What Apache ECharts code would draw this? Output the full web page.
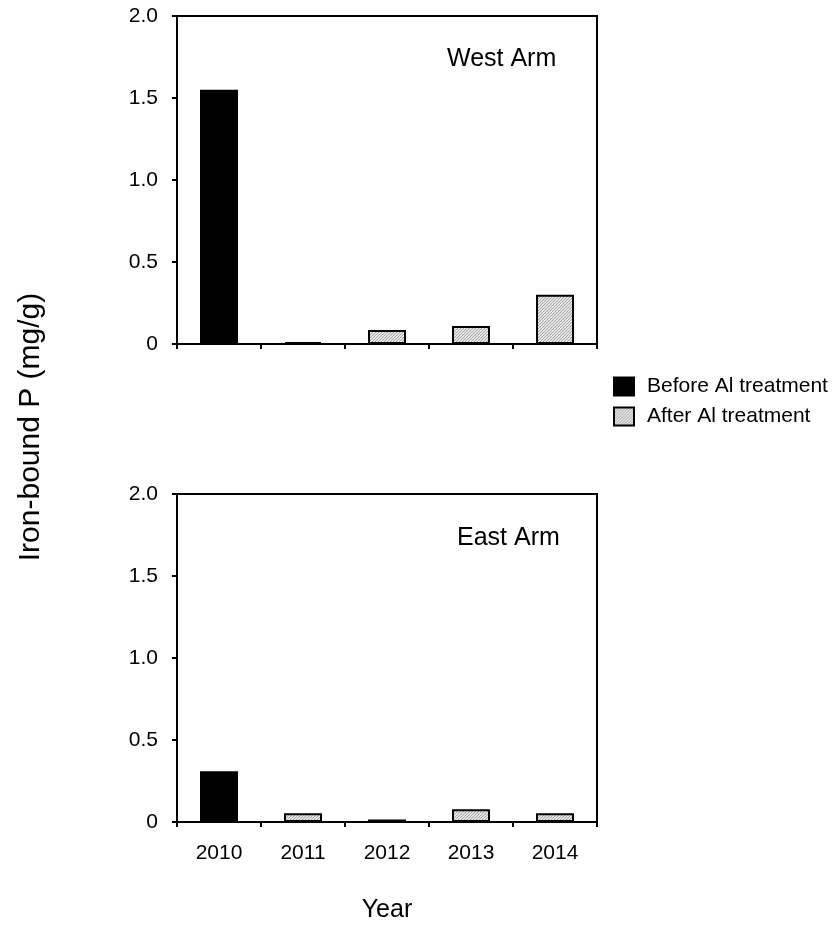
<!DOCTYPE html>
<html>
<head>
<meta charset="utf-8">
<style>
  html, body { margin: 0; padding: 0; background: #fff; }
  #chart { width: 839px; height: 928px; }
</style>
<script src="https://cdn.jsdelivr.net/npm/echarts@6/dist/echarts.min.js"></script>
</head>
<body>
<div id="chart"></div>
<script>
// 数据
const years = ['2010', '2011', '2012', '2013', '2014']
const yTicks = [0, 0.5, 1.0, 1.5, 2.0]
const westBefore = [1.55, '-', '-', '-', '-']
const westAfter = ['-', 0.012, 0.085, 0.11, 0.30]
const eastBefore = [0.31, '-', '-', '-', '-']
const eastAfter = ['-', 0.053, 0.015, 0.077, 0.053]

// 斜线填充
const hatch = (() => {
  const c = document.createElement('canvas')
  c.width = 3
  c.height = 3
  const ctx = c.getContext('2d')
  ctx.fillStyle = '#e4e4e4'
  ctx.fillRect(0, 0, 3, 3)
  ctx.fillStyle = '#a8a8a8'
  for (let i = 0; i < 3; i++) ctx.fillRect(i, 2 - i, 1, 1)
  return { image: c, repeat: 'repeat' }
})()

const myChart = echarts.init(document.getElementById('chart'))
const font = 'Liberation Sans, Arial, sans-serif'

const yAxisCommon = (gridIndex) => ({
  type: 'value',
  gridIndex,
  min: yTicks[0],
  max: yTicks[yTicks.length - 1],
  interval: 0.5,
  axisLine: { show: true, lineStyle: { color: '#000', width: 2 } },
  axisTick: { show: true, inside: false, length: 5, lineStyle: { color: '#000', width: 2 } },
  splitLine: { show: false },
  axisLabel: {
    margin: 19,
    color: '#000',
    fontFamily: font,
    fontSize: 21,
    formatter: (v) => (v === 0 ? '0' : v.toFixed(1))
  }
})

const xAxisCommon = (gridIndex, showLabel) => ({
  type: 'category',
  gridIndex,
  data: years,
  axisLine: { show: true, lineStyle: { color: '#000', width: 2 } },
  axisTick: { show: true, inside: false, length: 5, alignWithLabel: false, lineStyle: { color: '#000', width: 2 } },
  axisLabel: { show: showLabel, margin: 21, color: '#000', fontFamily: font, fontSize: 21 }
})

const barStyleBefore = { color: '#000', borderColor: '#000', borderWidth: 2 }
const barStyleAfter = { color: hatch, borderColor: '#000', borderWidth: 2 }

const option = {
  animation: false,
  backgroundColor: '#fff',
  title: [
    { text: 'West Arm', left: 447, top: 47, padding: 0, textStyle: { fontFamily: font, fontSize: 25, fontWeight: 'normal', color: '#000' } },
    { text: 'East Arm', left: 457, top: 526, padding: 0, textStyle: { fontFamily: font, fontSize: 25, fontWeight: 'normal', color: '#000' } }
  ],
  legend: {
    orient: 'vertical',
    left: 613,
    top: 376,
    padding: 0,
    itemWidth: 20,
    itemHeight: 18,
    itemGap: 9,
    icon: 'rect',
    textStyle: { fontFamily: font, fontSize: 21, color: '#000', padding: [0, 0, 0, 8] },
    data: ['Before Al treatment', 'After Al treatment']
  },
  grid: [
    { left: 177, top: 16, width: 420, height: 328, show: true, borderColor: '#000', borderWidth: 2, backgroundColor: 'transparent' },
    { left: 177, top: 494, width: 420, height: 328, show: true, borderColor: '#000', borderWidth: 2, backgroundColor: 'transparent' }
  ],
  xAxis: [
    xAxisCommon(0, false),
    Object.assign(xAxisCommon(1, true), {
      name: 'Year',
      nameLocation: 'middle',
      nameGap: 76,
      nameTextStyle: { fontFamily: font, fontSize: 25, color: '#000' }
    })
  ],
  yAxis: [yAxisCommon(0), yAxisCommon(1)],
  graphic: [
    {
      type: 'text',
      x: 31,
      y: 427,
      rotation: Math.PI / 2,
      style: {
        text: 'Iron-bound P (mg/g)',
        fontFamily: font,
        fontSize: 30,
        fill: '#000',
        align: 'center',
        verticalAlign: 'middle'
      }
    }
  ],
  series: [
    { name: 'Before Al treatment', type: 'bar', xAxisIndex: 0, yAxisIndex: 0, data: westBefore, barWidth: 38, barGap: '-100%', itemStyle: barStyleBefore },
    { name: 'After Al treatment', type: 'bar', xAxisIndex: 0, yAxisIndex: 0, data: westAfter, barWidth: 38, barGap: '-100%', itemStyle: barStyleAfter },
    { name: 'Before Al treatment', type: 'bar', xAxisIndex: 1, yAxisIndex: 1, data: eastBefore, barWidth: 38, barGap: '-100%', itemStyle: barStyleBefore },
    { name: 'After Al treatment', type: 'bar', xAxisIndex: 1, yAxisIndex: 1, data: eastAfter, barWidth: 38, barGap: '-100%', itemStyle: barStyleAfter }
  ]
}

myChart.setOption(option)
window.addEventListener('resize', myChart.resize)
</script>
</body>
</html>
